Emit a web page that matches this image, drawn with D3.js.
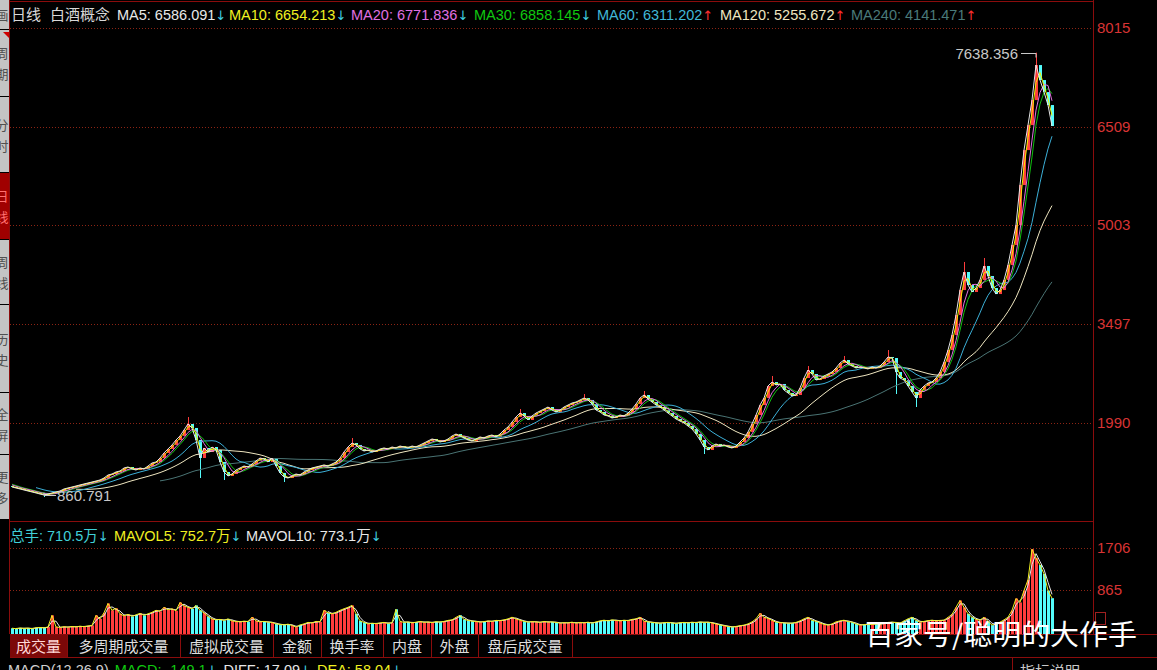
<!DOCTYPE html>
<html><head><meta charset="utf-8">
<script src="https://cdn.jsdelivr.net/npm/d3@7"></script>
<style>
html,body{margin:0;padding:0;background:#000;overflow:hidden}
svg{display:block}
text{font-family:"Liberation Sans","Noto Sans CJK SC",sans-serif}
.cjk{font-family:"Noto Sans CJK SC","Liberation Sans",sans-serif}
</style></head><body>
<svg id="chart" width="1157" height="670"></svg>
<script>
// ---------- data ----------
const periodLabel = "日线";
const sectorName = "白酒概念";
const maNames = ["MA5","MA10","MA20","MA30","MA60","MA120","MA240"];
const maValues = ["6586.091","6654.213","6771.836","6858.145","6311.202","5255.672","4141.471"];
const maTrend = ["down","down","down","down","up","up","up"];
const maDays = [5,10,20,30,60,120,240];
const priceTicks = [8015, 6509, 5003, 3497, 1990];
const volTicks = [1706, 865];
const volHeadNames = ["总手","MAVOL5","MAVOL10"];
const volHeadValues = ["710.5万","752.7万","773.1万"];
const volHeadTrend = ["down","down","down"];
const tabLabels = ["成交量","多周期成交量","虚拟成交量","金额","换手率","内盘","外盘","盘后成交量"];
const sideTabs = ["画","周期","分时","日线","周线","历史","全屏","更多"];
const macdNames = ["MACD(12,26,9)","MACD: -149.1","DIFF: 17.09","DEA: 58.04"];
const watermark = "百家号/聪明的大作手";
const helpLabel = "指标说明";

// closes before the first visible bar (used only for the averages)
const priorCloses = [1100,1080,1060,1030];
// one bar per ~4px of the reference
const closes = [
1014,999,984,968,953,938,923,907,892,907,
923,938,953,984,999,1014,1029,1045,1060,1075,
1090,1105,1121,1151,1197,1212,1243,1258,1304,1319,
1289,1273,1304,1289,1334,1380,1395,1456,1533,1594,
1655,1731,1792,1883,1975,1914,1731,1456,1609,1548,
1624,1578,1395,1243,1182,1212,1273,1304,1334,1319,
1365,1411,1456,1441,1395,1456,1334,1228,1167,1151,
1182,1212,1197,1243,1273,1304,1319,1334,1350,1334,
1365,1395,1456,1548,1624,1685,1655,1594,1563,1578,
1548,1563,1594,1609,1594,1624,1609,1639,1624,1609,
1639,1624,1655,1685,1716,1746,1731,1700,1716,1746,
1792,1822,1792,1761,1731,1716,1746,1777,1761,1792,
1807,1777,1822,1883,1929,2005,2081,2142,2097,2036,
2097,2142,2173,2203,2234,2188,2158,2188,2234,2264,
2295,2310,2341,2371,2341,2280,2188,2158,2112,2097,
2066,2081,2112,2097,2142,2203,2280,2371,2417,2356,
2310,2264,2234,2188,2142,2097,2051,2020,1990,1944,
1899,1822,1731,1624,1578,1639,1670,1639,1655,1624,
1609,1639,1700,1761,1853,1975,2112,2264,2371,2554,
2615,2570,2585,2493,2448,2402,2417,2524,2676,2798,
2737,2646,2661,2707,2737,2768,2829,2905,2951,2890,
2859,2829,2844,2829,2814,2844,2829,2859,2920,2997,
2981,2768,2676,2646,2554,2463,2371,2493,2554,2600,
2615,2676,2768,2920,3103,3332,3637,4018,4293,4095,
3988,4049,4171,4385,4232,4049,3957,4018,4171,4400,
4705,5010,5620,6153,6534,6916,7450,7221,7038,6840,6520
];
const volumes = [
115,105,120,110,118,105,125,130,120,140,
370,140,130,145,135,150,140,155,145,160,
170,370,300,420,606,470,510,400,360,390,
350,380,410,370,400,430,470,450,530,480,
500,460,626,560,530,500,567,470,420,350,
300,280,290,270,300,260,250,240,255,245,
333,260,240,250,235,230,200,190,180,195,
170,137,180,200,230,220,250,240,470,420,
400,430,470,500,530,567,400,260,230,200,
215,205,220,230,210,225,490,250,230,240,
220,235,250,230,240,225,245,235,250,270,
280,330,372,290,270,255,250,235,245,260,
250,270,265,280,300,333,300,274,250,235,
245,240,230,250,235,240,230,215,225,220,
235,215,230,220,235,215,240,260,274,260,
280,270,260,274,265,290,300,333,254,240,
230,220,215,225,230,220,210,225,230,220,
235,225,240,230,235,220,200,180,165,150,
137,150,165,176,200,240,300,411,330,313,
270,235,225,220,215,215,230,260,300,333,
270,254,220,190,176,200,240,260,274,245,
235,200,176,185,196,190,200,196,210,230,
235,225,215,260,300,333,270,235,250,265,
274,260,270,274,330,391,528,665,528,400,
333,290,274,333,250,176,200,235,280,333,
469,704,626,861,1076,1682,1506,1369,1193,861,710.5
];
// notable shadows (bar index, price)
const highIdx = [44,85,127,143,158,190,199,208,219,238,243,256];
const highVal = [2081,1761,2203,2432,2478,2707,2859,3012,3103,4446,4507,7638.356];
const lowIdx = [8,47,53,68,173,221,226];
const lowVal = [860.791,1151,1121,1090,1517,2432,2234];

// ---------- drawing ----------
const svg = d3.select("#chart");
svg.append("rect").attr("width",1157).attr("height",670).attr("fill","#000");

const off = priorCloses.length;
const allCloses = priorCloses.concat(closes);
const N = closes.length;
const x = d3.scaleLinear().domain([0, N-1]).range([12, 1052]);
const y = d3.scaleLinear().domain([priceTicks[priceTicks.length-1], priceTicks[0]]).range([423, 28]);
const yv = d3.scaleLinear().domain([0, volTicks[0]]).range([634, 548]);
const barDays = 5.7; // trading days represented by one drawn bar
const maBars = maDays.map(d => Math.max(1, Math.round(d / barDays)));
const maColors = ["#e8e8e8","#f2f200","#e070e0","#10c010","#3cb0d8","#efe6c0","#4a7474"];
const txtColors = ["#e8e8e8","#f0f020","#e070e0","#10c810","#40b8d8","#efe6c0","#4a7a7a"];
const dnCol = "#40d0e0", upCol = "#ff3030";

const grid = "#8c2414";
priceTicks.forEach(t => {
  svg.append("line").attr("x1",10).attr("x2",1093).attr("y1",Math.round(y(t))+0.5).attr("y2",Math.round(y(t))+0.5)
    .attr("stroke",grid).attr("stroke-dasharray","1,2");
  svg.append("text").attr("x",1097).attr("y",y(t)+5).attr("fill","#d83434").attr("font-size",15).text(t);
});
volTicks.forEach(t => {
  svg.append("line").attr("x1",10).attr("x2",1093).attr("y1",Math.round(yv(t))+0.5).attr("y2",Math.round(yv(t))+0.5)
    .attr("stroke",grid).attr("stroke-dasharray","1,2");
  svg.append("text").attr("x",1097).attr("y",yv(t)+5).attr("fill","#d83434").attr("font-size",15).text(t);
});

const frame = "#8a0c0c";
[[10,1.5,1093,1.5],[9.5,0,9.5,634],[1093.5,0,1093.5,634],[10,521.5,1093,521.5],[10,634.5,1157,634.5],[10,657.5,1157,657.5],[1012.5,658,1012.5,670]]
  .forEach(l => svg.append("line").attr("x1",l[0]).attr("y1",l[1]).attr("x2",l[2]).attr("y2",l[3]).attr("stroke",frame));

svg.append("clipPath").attr("id","pc").append("rect").attr("x",10).attr("y",2).attr("width",1083).attr("height",519);
svg.append("clipPath").attr("id","vc").append("rect").attr("x",10).attr("y",522).attr("width",1083).attr("height",112);

const hiMap = new Map(highIdx.map((d,k)=>[d,highVal[k]]));
const loMap = new Map(lowIdx.map((d,k)=>[d,lowVal[k]]));
const bars = closes.map((c,i) => {
  const o = i === 0 ? priorCloses[priorCloses.length-1] : closes[i-1];
  const hi = hiMap.has(i) ? hiMap.get(i) : Math.max(o,c);
  const lo = loMap.has(i) ? loMap.get(i) : Math.min(o,c);
  return {i, o, c, hi, lo, up: c >= o, v: volumes[i]};
});

const pg = svg.append("g").attr("clip-path","url(#pc)");
pg.selectAll("line.w").data(bars.filter(b => hiMap.has(b.i) || loMap.has(b.i))).join("line")
  .attr("x1",b=>Math.round(x(b.i))+0.5).attr("x2",b=>Math.round(x(b.i))+0.5)
  .attr("y1",b=>y(b.hi)).attr("y2",b=>y(b.lo))
  .attr("stroke",b=>b.up?"#ff3c3c":"#54fcfc");
pg.selectAll("rect.b").data(bars).join("rect")
  .attr("x",b=>Math.round(x(b.i))-1).attr("width",3)
  .attr("y",b=>Math.min(y(b.o),y(b.c)))
  .attr("height",b=>Math.max(1,Math.abs(y(b.o)-y(b.c))))
  .attr("fill",b=>b.up?"#ff3c3c":"#54fcfc");

function movingAvg(arr, p, k) {
  if (k < p-1) return null;
  let s = 0; for (let j=k-p+1;j<=k;j++) s += arr[j];
  return s/p;
}
const line = d3.line().defined(d=>d[1]!==null).x(d=>x(d[0])).y(d=>y(d[1]));
for (let m = maBars.length-1; m >= 0; m--) {
  const pts = closes.map((c,i) => [i, movingAvg(allCloses, maBars[m], i+off)]);
  pg.append("path").attr("d", line(pts)).attr("fill","none").attr("stroke",maColors[m]).attr("stroke-width",1);
}

{
  const hiK = highVal.indexOf(d3.max(highVal));
  const hx = x(highIdx[hiK]), hy = Math.round(y(highVal[hiK]))+0.5;
  pg.append("path").attr("d",`M${hx-15},${hy}H${hx}V${hy+4}`).attr("stroke","#c8c8c8").attr("fill","none");
  svg.append("text").attr("x",hx-18).attr("y",hy+5).attr("text-anchor","end").attr("fill","#c8c8c8").attr("font-size",15).text(highVal[hiK].toFixed(3));
  const loK = lowVal.indexOf(d3.min(lowVal));
  const lx = x(lowIdx[loK]), ly = Math.round(y(lowVal[loK]))-1.5;
  pg.append("path").attr("d",`M${lx},${ly-3}V${ly}H${lx+12}`).attr("stroke","#c8c8c8").attr("fill","none");
  svg.append("text").attr("x",lx+13).attr("y",ly+5).attr("fill","#c8c8c8").attr("font-size",15).text(lowVal[loK].toFixed(3));
}

const vg = svg.append("g").attr("clip-path","url(#vc)");
vg.selectAll("rect").data(bars).join("rect")
  .attr("x",b=>Math.round(x(b.i))-1).attr("width",3)
  .attr("y",b=>yv(b.v)).attr("height",b=>634-yv(b.v))
  .attr("fill",b=>b.up?"#ff3c3c":"#54fcfc");
const vline = d3.line().defined(d=>d[1]!==null).x(d=>x(d[0])).y(d=>yv(d[1]));
const volBars = [5,10].map(d => Math.max(1, Math.round(d / barDays)));
[["#e8e8e8",volBars[1]],["#f0f020",volBars[0]]].forEach(([col,p]) => {
  const pts = volumes.map((v,i)=>[i, movingAvg(volumes,p,i)]);
  vg.append("path").attr("d",vline(pts)).attr("fill","none").attr("stroke",col).attr("stroke-width",1);
});

svg.append("text").attr("class","cjk").attr("x",11).attr("y",20).attr("fill","#d8d8d8").attr("font-size",15).text(periodLabel);
svg.append("text").attr("class","cjk").attr("x",50).attr("y",20).attr("fill","#d8d8d8").attr("font-size",15).text(sectorName);
const headX = [117,229,351,474,597,720,851];
maNames.forEach((n,k) => {
  const t = svg.append("text").attr("x",headX[k]).attr("y",20).attr("font-size",14.5);
  t.append("tspan").attr("fill",txtColors[k]).text(`${n}: ${maValues[k]}`);
  t.append("tspan").attr("fill",maTrend[k]==="up"?upCol:dnCol).attr("font-family","DejaVu Sans").attr("font-size",13).text(maTrend[k]==="up"?"↑":"↓");
});
const vhX = [10,114,246];
const vhCol = ["#40d0d8","#f0f020","#e8e8e8"];
volHeadNames.forEach((n,k) => {
  const t = svg.append("text").attr("x",vhX[k]).attr("y",541).attr("font-size",14.5);
  t.append("tspan").attr("fill",vhCol[k]).text(`${n}: ${volHeadValues[k]}`);
  t.append("tspan").attr("fill",dnCol).attr("font-family","DejaVu Sans").attr("font-size",13).text(volHeadTrend[k]==="up"?"↑":"↓");
});

const tabEdges = [10,67,180,273,321,383,431,478,572];
svg.append("rect").attr("x",10).attr("y",635).attr("width",57).attr("height",22).attr("fill","#7c0808");
tabLabels.forEach((l,k) => {
  svg.append("line").attr("x1",tabEdges[k+1]+0.5).attr("x2",tabEdges[k+1]+0.5).attr("y1",635).attr("y2",657).attr("stroke",frame);
  svg.append("text").attr("class","cjk").attr("x",(tabEdges[k]+tabEdges[k+1])/2).attr("y",652).attr("text-anchor","middle")
    .attr("font-size",15).attr("fill",k===0?"#ffd8d8":"#dedede").text(l);
});

{
  const t = svg.append("text").attr("x",8).attr("y",675).attr("font-size",14.5);
  const cols = ["#d0d0d0","#10c810","#e8e8e8","#f0f020"];
  macdNames.forEach((m,k) => {
    t.append("tspan").attr("fill",cols[k]).attr("dx",k?6:0).text(m);
    if (k) t.append("tspan").attr("fill",dnCol).attr("font-family","DejaVu Sans").attr("font-size",13).text("↓");
  });
}
svg.append("text").attr("class","cjk").attr("x",1020).attr("y",677).attr("font-size",15).attr("fill","#c8c8c8").text(helpLabel);

const sideEdges = [0,30,97,173,240,305,393,455,520];
sideTabs.forEach((l,k) => {
  svg.append("rect").attr("x",0).attr("y",sideEdges[k]).attr("width",9).attr("height",sideEdges[k+1]-sideEdges[k]-1)
    .attr("fill",k===3?"#a00000":"#c4c4c4");
  const chars = l.split("");
  const mid = (sideEdges[k]+sideEdges[k+1])/2;
  chars.forEach((ch,j) => {
    svg.append("text").attr("class","cjk").attr("x",2).attr("y",mid + (j-(chars.length-1)/2)*21 + 5)
      .attr("text-anchor","middle").attr("font-size",13).attr("fill",k===3?"#ff7070":"#505050").text(ch);
  });
});
svg.append("path").attr("d","M3,32L9,32L9,38Z").attr("fill","#d00000");

svg.append("rect").attr("x",1095.5).attr("y",612.5).attr("width",10).attr("height",12).attr("fill","none").attr("stroke","#a02020");

svg.append("text").attr("class","cjk").attr("x",865).attr("y",645).attr("font-size",28).attr("fill","#ffffff")
  .attr("textLength",272).attr("lengthAdjust","spacingAndGlyphs").text(watermark);
</script>
</body></html>
